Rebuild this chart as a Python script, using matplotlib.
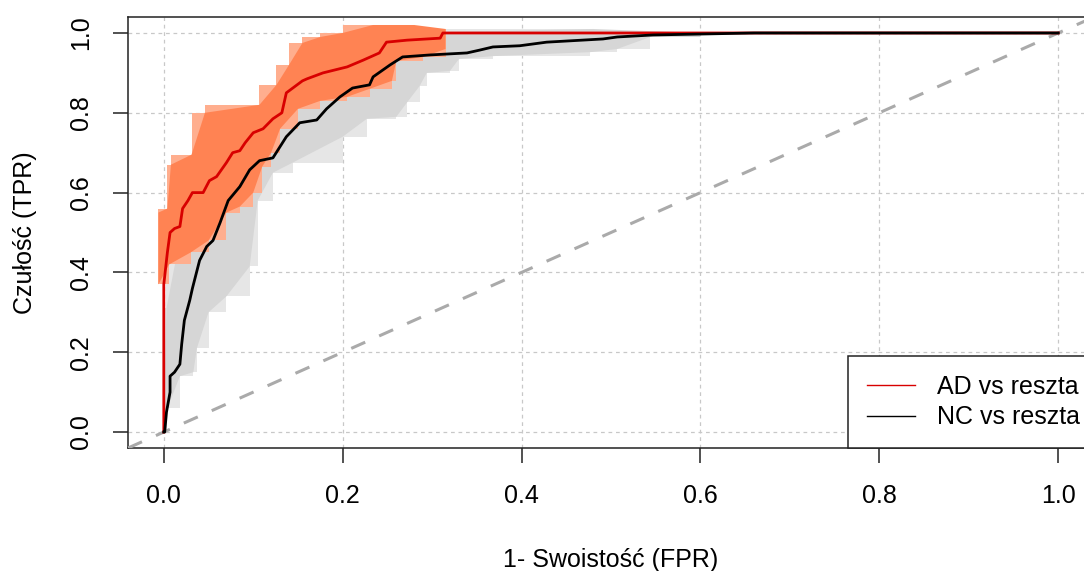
import matplotlib
matplotlib.use("Agg")
import matplotlib.pyplot as plt
import numpy as np

plt.rcParams['font.family'] = ['Liberation Sans', 'DejaVu Sans']

# ROC curve AD vs reszta
ad_fpr = [0, 0, 0.001, 0.004, 0.007, 0.012, 0.018, 0.021, 0.027, 0.032, 0.044, 0.051,
          0.059, 0.070, 0.077, 0.085, 0.091, 0.100, 0.111, 0.122, 0.132, 0.137, 0.155,
          0.160, 0.178, 0.205, 0.223, 0.241, 0.249, 0.272, 0.309, 0.312, 1.0]
ad_tpr = [0, 0.37, 0.39, 0.45, 0.50, 0.51, 0.515, 0.56, 0.58, 0.60, 0.60, 0.63,
          0.64, 0.675, 0.70, 0.705, 0.725, 0.75, 0.76, 0.785, 0.80, 0.85, 0.88,
          0.885, 0.90, 0.915, 0.932, 0.95, 0.977, 0.982, 0.987, 1.0, 1.0]

# ROC curve NC vs reszta
nc_fpr = [0, 0.001, 0.003, 0.007, 0.007, 0.012, 0.018, 0.020, 0.023, 0.029, 0.032,
          0.040, 0.048, 0.055, 0.063, 0.072, 0.085, 0.096, 0.107, 0.122, 0.137, 0.152,
          0.171, 0.182, 0.197, 0.211, 0.230, 0.234, 0.253, 0.267, 0.298, 0.339, 0.353,
          0.368, 0.398, 0.428, 0.491, 0.507, 0.547, 0.66, 1.0]
nc_tpr = [0, 0, 0.05, 0.10, 0.14, 0.15, 0.17, 0.22, 0.28, 0.33, 0.36,
          0.43, 0.465, 0.48, 0.525, 0.58, 0.615, 0.657, 0.68, 0.687, 0.74, 0.775,
          0.782, 0.81, 0.84, 0.862, 0.87, 0.89, 0.92, 0.94, 0.945, 0.95, 0.957,
          0.965, 0.968, 0.977, 0.985, 0.99, 0.995, 1.0, 1.0]

# confidence band of sensitivity, AD vs reszta
ad_ci_up_x = [-0.006, 0.004, 0.008, 0.031, 0.046, 0.107, 0.126, 0.14, 0.155, 0.175, 0.20, 0.234, 0.28, 0.315]
ad_ci_up = [0.55, 0.56, 0.67, 0.695, 0.80, 0.82, 0.87, 0.92, 0.975, 0.99, 1.0, 1.02, 1.02, 1.01]
ad_ci_lo_x = [-0.006, 0.006, 0.03, 0.05, 0.07, 0.085, 0.10, 0.11, 0.12, 0.13, 0.15, 0.175,
              0.205, 0.23, 0.255, 0.26, 0.29, 0.315]
ad_ci_lo = [0.37, 0.42, 0.45, 0.48, 0.55, 0.565, 0.60, 0.665, 0.70, 0.76, 0.81, 0.83,
            0.84, 0.86, 0.88, 0.93, 0.94, 0.96]

# confidence band of sensitivity, NC vs reszta
nc_ci_up_x = [0.0, 0.003, 0.015, 0.04, 0.07, 0.10, 0.13, 0.16, 0.20, 0.24, 0.27, 0.48, 0.6]
nc_ci_up = [0.05, 0.31, 0.45, 0.55, 0.62, 0.70, 0.80, 0.86, 0.92, 0.97, 1.0, 1.01, 1.0]
nc_ci_lo_x = [0.0, 0.004, 0.018, 0.033, 0.037, 0.05, 0.07, 0.096, 0.105, 0.122, 0.144,
              0.2, 0.227, 0.26, 0.272, 0.286, 0.294, 0.32, 0.33, 0.368, 0.477, 0.507,
              0.544, 0.6]
nc_ci_lo = [0.0, 0.06, 0.14, 0.15, 0.21, 0.30, 0.34, 0.415, 0.58, 0.65, 0.675,
            0.74, 0.785, 0.79, 0.826, 0.867, 0.90, 0.905, 0.935, 0.942, 0.952, 0.96,
            0.99, 0.99]

ticks = [0.0, 0.2, 0.4, 0.6, 0.8, 1.0]
tick_labels = ['0.0', '0.2', '0.4', '0.6', '0.8', '1.0']


def band(ax, xu, yu, xl, yl, color, soft, z):
    xu, yu, xl, yl = map(np.asarray, (xu, yu, xl, yl))
    # soft blocky outer edge (outward staircase)
    sxu = np.repeat(xu, 2)[:-1]
    syu = np.repeat(yu, 2)[1:]
    sxl = np.repeat(xl, 2)[1:]
    syl = np.repeat(yl, 2)[:-1]
    ax.fill(np.concatenate([sxu, sxl[::-1]]), np.concatenate([syu, syl[::-1]]),
            color=soft, lw=0, zorder=z)
    # solid core
    ax.fill(np.concatenate([xu, xl[::-1]]), np.concatenate([yu, yl[::-1]]),
            color=color, lw=0, zorder=z + 0.1)


fig = plt.figure(figsize=(10.84, 5.71), dpi=100)
ax = fig.add_axes([0.1181, 0.2154, 0.8911, 0.7548])

ax.set_xlim(-0.04, 1.04)
ax.set_ylim(-0.04, 1.04)

ax.grid(True, color='#c8c8c8', lw=0.9, ls=(0, (3, 3)), zorder=0)
ax.set_axisbelow(True)

band(ax, nc_ci_up_x, nc_ci_up, nc_ci_lo_x, nc_ci_lo, '#d6d6d6', '#e6e6e6', 1)
band(ax, ad_ci_up_x, ad_ci_up, ad_ci_lo_x, ad_ci_lo, '#ff8353', '#ffae8e', 2)

ax.axline((0, 0), slope=1, color='#aaaaaa', lw=2.2, ls=(0, (5, 5)), zorder=3)

ax.plot(ad_fpr, ad_tpr, color='#d80000', lw=2.0, zorder=4, label='AD vs reszta')
ax.plot(nc_fpr, nc_tpr, color='black', lw=2.0, zorder=5, label='NC vs reszta')

ax.set_xticks(ticks)
ax.set_xticklabels(tick_labels)
ax.set_yticks(ticks)
ax.set_yticklabels(tick_labels, rotation=90, va='center')
ax.tick_params(axis='both', labelsize=18, length=11, width=1.1, color='#222222')
ax.tick_params(axis='x', pad=15)
ax.tick_params(axis='y', pad=14)
for s in ax.spines.values():
    s.set_linewidth(1.1)
    s.set_color('#222222')

ax.set_xlabel('1- Swoistość (FPR)', fontsize=18, labelpad=29)
ax.set_ylabel('Czułość (TPR)', fontsize=18, labelpad=23)

leg = ax.legend(loc='lower left', bbox_to_anchor=(0.7453, 0.0), fontsize=18,
                frameon=True, fancybox=False, edgecolor='#222222', framealpha=1,
                borderaxespad=0, borderpad=0.75, handlelength=1.95,
                handletextpad=0.85, labelspacing=0.25)
leg.get_frame().set_linewidth(1.1)
for line in leg.get_lines():
    line.set_linewidth(1.0)
leg.set_zorder(10)

fig.savefig('out.png', dpi=100)
